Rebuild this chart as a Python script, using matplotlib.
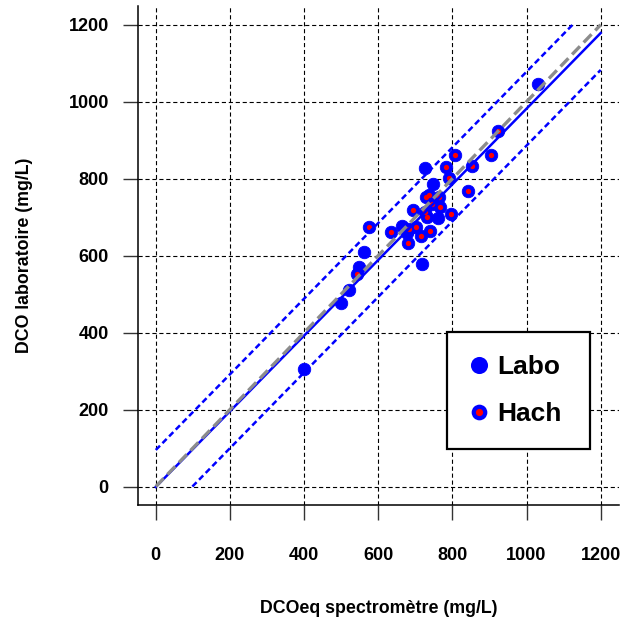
import matplotlib
matplotlib.use("Agg")
import matplotlib.pyplot as plt
from matplotlib.lines import Line2D
from matplotlib.legend_handler import HandlerTuple
import numpy as np

# points measured by the lab only (blue)
labo_x = [400, 499, 521, 562, 548, 726, 718, 749, 761, 664, 678, 1031]
labo_y = [306, 477, 512, 610, 571, 828, 578, 787, 698, 678, 660, 1047]

# points also measured with the Hach kit (blue with red centre)
hach_x = [923, 806, 903, 784, 854, 791, 842, 730, 737, 764, 745, 767,
          694, 726, 731, 796, 575, 634, 683, 702, 714, 740, 680, 543]
hach_y = [923, 862, 862, 830, 834, 802, 769, 753, 757, 753, 735, 727,
          719, 714, 701, 709, 675, 661, 670, 674, 652, 665, 633, 553]

# regression line and prediction band half width
reg_slope = 0.983
reg_intercept = -1.0
band = 96.0

ticks = [0, 200, 400, 600, 800, 1000, 1200]
legend_labels = ["Labo", "Hach"]

BLUE = "#0000FF"
RED = "#FF0000"
GREY = "#8C8C8C"

plt.rcParams['font.family'] = ['Liberation Sans', 'DejaVu Sans']

fig = plt.figure(figsize=(6.32, 6.30), dpi=100)
ax = fig.add_axes([138 / 632, 1 - 505 / 630, 480.5 / 632, 498.7 / 630])
ax.set_xlim(-48, 1248)
ax.set_ylim(-48, 1248)

# grid
for t in ticks:
    ax.axhline(t, color="black", lw=0.8, dashes=(3.75, 2.5), zorder=1)
    ax.axvline(t, color="black", lw=0.8, dashes=(3.75, 2.5), zorder=1)

# points
all_x = labo_x + hach_x
all_y = labo_y + hach_y
ax.plot(all_x, all_y, "o", color=BLUE, ms=9, mec=BLUE, mew=0.6, zorder=3)
ax.plot(hach_x, hach_y, "o", color=RED, ms=3.8, mew=0, zorder=4)

# lines
xs = np.array([0, 1200])
ax.plot(xs, reg_intercept + reg_slope * xs, color=BLUE, lw=1.8, zorder=5)
x_up = np.array([0, (1200 - reg_intercept - band) / reg_slope])
ax.plot(x_up, reg_intercept + band + reg_slope * x_up, color=BLUE, lw=1.8,
        dashes=(2.4, 1.4), zorder=5)
x_lo = np.array([(band - reg_intercept) / reg_slope, 1200])
ax.plot(x_lo, reg_intercept - band + reg_slope * x_lo, color=BLUE, lw=1.8,
        dashes=(2.4, 1.4), zorder=5)
ax.plot(xs, xs, color=GREY, lw=2.4, dashes=(3.4, 1.6), zorder=6)

# axes look
for s in ["top", "right"]:
    ax.spines[s].set_visible(False)
for s in ["left", "bottom"]:
    ax.spines[s].set_linewidth(1.1)
ax.set_xticks(ticks)
ax.set_yticks(ticks)
ax.tick_params(axis="both", direction="out", length=11, width=1.0, color="#333333",
               labelsize=13)
ax.tick_params(axis="x", pad=19)
ax.tick_params(axis="y", pad=10)
for lab in ax.get_xticklabels() + ax.get_yticklabels():
    lab.set_fontweight("bold")

ax.set_xlabel("DCOeq spectromètre (mg/L)", fontsize=12.8, fontweight="bold")
ax.set_ylabel("DCO laboratoire (mg/L)", fontsize=12.8, fontweight="bold")
ax.xaxis.set_label_coords(0.5, -0.207)
ax.xaxis.label.set_va("center")
ax.yaxis.set_label_coords(-0.236, 0.5)
ax.yaxis.label.set_va("center")

# legend
h_labo = Line2D([], [], ls="none", marker="o", ms=12.3, color=BLUE, mew=0)
h_hach_b = Line2D([], [], ls="none", marker="o", ms=11.3, color=BLUE, mew=0)
h_hach_r = Line2D([], [], ls="none", marker="o", ms=5.2, color=RED, mew=0)
leg_w = 143 / 480.5
leg_h = 118 / 498.7
leg = ax.legend([h_labo, (h_hach_b, h_hach_r)], legend_labels,
                handler_map={tuple: HandlerTuple(ndivide=1, pad=0)},
                loc="upper left", bbox_to_anchor=(0.643, 0.347 - leg_h, leg_w, leg_h),
                mode="expand", borderaxespad=0, fancybox=False, framealpha=1,
                edgecolor="black", prop={"size": 19, "weight": "bold"},
                handlelength=0.7, handletextpad=0.34, borderpad=0.88,
                labelspacing=0.86)
leg.get_frame().set_linewidth(1.6)
leg.set_zorder(10)

fig.savefig("out.png", dpi=100)
plt.close(fig)
